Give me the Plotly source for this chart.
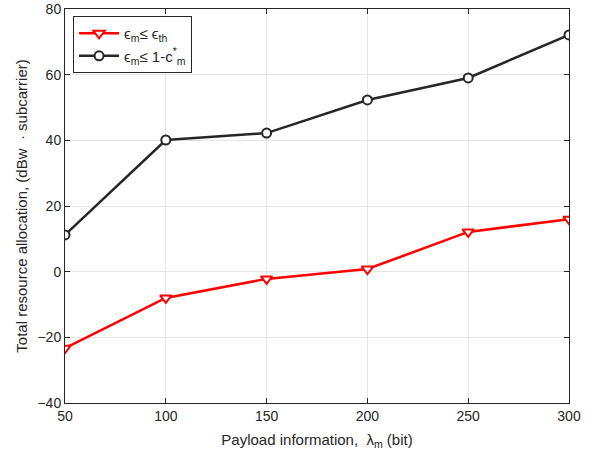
import plotly.graph_objects as go

x_vals = [50, 100, 150, 200, 250, 300]
red_vals = [-23.3, -8, -2.2, 0.8, 12.1, 16]
black_vals = [11.2, 40.1, 42.2, 52.3, 59, 72.1]
red_name = "ϵ<sub>m</sub>≤ ϵ<sub>th</sub>"
black_name = "ϵ<sub>m</sub>≤ 1-c<sup>*</sup><sub>m</sub>"

fig = go.Figure()
fig.add_trace(go.Scatter(
    x=x_vals, y=red_vals, mode="lines+markers", name=red_name,
    line=dict(color="#ff0000", width=2.5),
    marker=dict(symbol="triangle-down", size=10, color="white",
                line=dict(color="#ff0000", width=2)),
))
fig.add_trace(go.Scatter(
    x=x_vals, y=black_vals, mode="lines+markers", name=black_name,
    line=dict(color="#262626", width=2.5),
    marker=dict(symbol="circle", size=9, color="white",
                line=dict(color="#262626", width=2)),
))

font_fam = "Liberation Sans, Arial"
axis_common = dict(
    showline=True, linecolor="#262626", linewidth=1, mirror="ticks",
    ticks="inside", ticklen=5, tickcolor="#262626",
    showgrid=True, gridcolor="#e6e6e6", gridwidth=1, zeroline=False,
    tickfont=dict(family=font_fam, size=14, color="#262626"),
    automargin=False,
)
fig.update_xaxes(range=[50, 300], tickvals=[50, 100, 150, 200, 250, 300],
                 title=dict(text="Payload information,  λ<sub>m</sub> (bit)",
                            font=dict(family=font_fam, size=15, color="#262626"),
                            standoff=11),
                 **axis_common)
fig.update_yaxes(range=[-40, 80], tickvals=[-40, -20, 0, 20, 40, 60, 80],
                 title=dict(text="Total resource allocation, (dBw  · subcarrier)",
                            font=dict(family=font_fam, size=15, color="#262626"),
                            standoff=6),
                 **axis_common)
fig.update_layout(
    width=595, height=457,
    margin=dict(l=65, r=26, t=9, b=54),
    paper_bgcolor="white", plot_bgcolor="white",
    showlegend=True,
    legend=dict(x=0.016, y=0.982, xanchor="left", yanchor="top",
                bgcolor="white", bordercolor="#262626", borderwidth=1,
                font=dict(family=font_fam, size=15, color="#262626"),
                itemwidth=40, tracegroupgap=0),
)
fig.write_html("out.html", config={"displayModeBar": False},
               post_script="document.body.style.margin='0px';")
